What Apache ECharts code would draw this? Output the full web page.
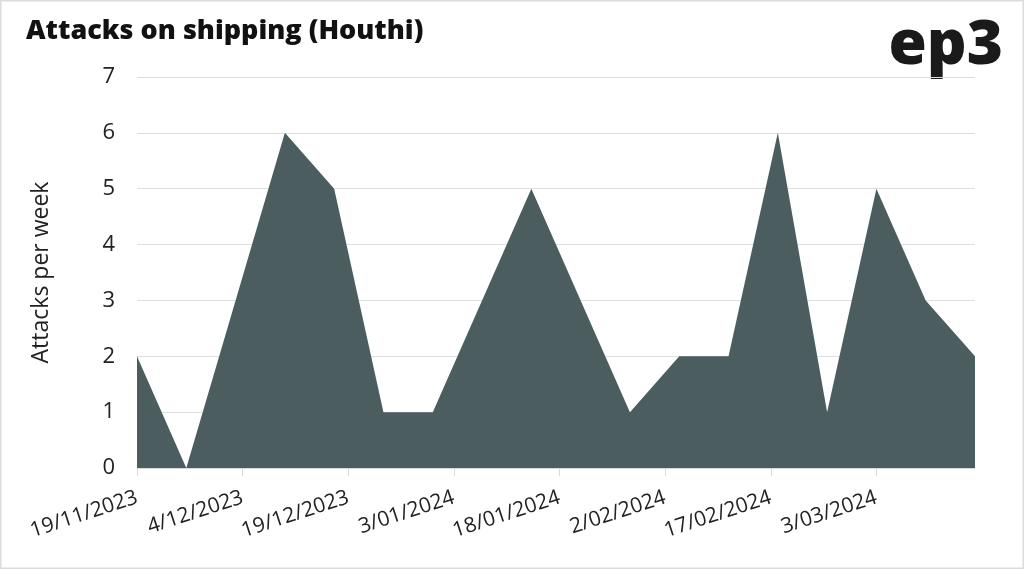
<!DOCTYPE html>
<html><head><meta charset="utf-8">
<script src="https://cdn.jsdelivr.net/npm/echarts@6/dist/echarts.min.js"></script>
<style>html,body{margin:0;padding:0;background:#fff}#c{width:1024px;height:569px}</style>
</head><body><div id="c"></div>
<script>
const title = 'Attacks on shipping (Houthi)';
const yAxisName = 'Attacks per week';
const dates = ['19/11/2023','26/11/2023','3/12/2023','10/12/2023','17/12/2023','24/12/2023','31/12/2023','7/01/2024','14/01/2024','21/01/2024','28/01/2024','4/02/2024','11/02/2024','18/02/2024','25/02/2024','3/03/2024','10/03/2024','17/03/2024'];
const values = [2,0,3,6,5,1,1,3,5,3,1,2,2,6,1,5,3,2];
const tickLabels = ['19/11/2023','4/12/2023','19/12/2023','3/01/2024','18/01/2024','2/02/2024','17/02/2024','3/03/2024'];

function toDay(s){const p=s.split('/');return Date.UTC(+p[2],+p[1]-1,+p[0])/86400000;}
const d0 = toDay(dates[0]);
const xs = dates.map(d=>toDay(d)-d0);
const tickVals = tickLabels.map(d=>toDay(d)-d0);
const labelMap = {}; tickVals.forEach((v,i)=>labelMap[v]=tickLabels[i]);

const font = '"Open Sans"';
const chart = echarts.init(document.getElementById('c'));
chart.setOption({
  animation:false,
  graphic:[
    {type:'rect',shape:{x:0.5,y:0.5,width:1023,height:568},style:{fill:'none',stroke:'#dcdcdc',lineWidth:2}},
    {type:'text',left:26,top:18,style:{text:title,font:'800 27px '+font,fill:'#111'}},
    {type:'text',right:21,top:15,style:{text:'ep3',font:'800 62px '+font,fill:'#1a1a1a'}}
  ],
  grid:{left:137,right:49,top:77,bottom:101},
  xAxis:{
    type:'value',min:0,max:xs[xs.length-1],interval:15,
    axisLine:{show:true,lineStyle:{color:'#d9d9d9'}},
    axisTick:{show:true,length:8,lineStyle:{color:'#d9d9d9'},customValues:tickVals},
    splitLine:{show:false},
    axisLabel:{customValues:tickVals,rotate:18,margin:29,color:'#222',fontFamily:font,fontSize:21,
      formatter:v=>labelMap[v]||''}
  },
  yAxis:{
    type:'value',min:0,max:7,interval:1,
    name:yAxisName,nameLocation:'middle',nameGap:84,
    nameTextStyle:{color:'#222',fontFamily:font,fontSize:23},
    axisLine:{show:false},axisTick:{show:false},
    splitLine:{lineStyle:{color:'#dedede'}},
    axisLabel:{color:'#222',fontFamily:font,fontSize:22,margin:22}
  },
  series:[{
    type:'line',data:xs.map((x,i)=>[x,values[i]]),
    symbol:'none',lineStyle:{width:0,color:'#4b5d5f'},
    areaStyle:{color:'#4b5d5f',opacity:1}
  }]
});
</script></body></html>
